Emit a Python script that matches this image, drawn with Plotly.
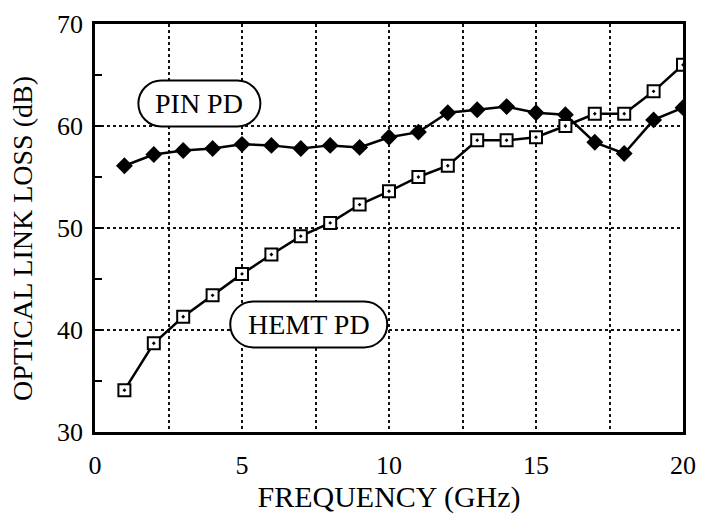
import plotly.graph_objects as go

# Frequency sweep (GHz) and measured optical link loss (dB)
freq_ghz = [1, 2, 3, 4, 5, 6, 7, 8, 9, 10, 11, 12, 13, 14, 15, 16, 17, 18, 19, 20]
pin_pd_loss = [56.1, 57.2, 57.6, 57.8, 58.2, 58.1, 57.8, 58.1, 57.9, 58.9,
               59.4, 61.3, 61.6, 61.9, 61.3, 61.1, 58.4, 57.3, 60.6, 61.8]
hemt_pd_loss = [34.1, 38.7, 41.3, 43.4, 45.5, 47.4, 49.2, 50.5, 52.3, 53.6,
                55.0, 56.1, 58.6, 58.6, 58.9, 60.0, 61.2, 61.2, 63.4, 66.0]

x_ticks = [0, 5, 10, 15, 20]
y_ticks = [30, 40, 50, 60, 70]

# Curve labels: (text, x, y, box width px, box height px)
curve_labels = [
    ("PIN PD", 3.55, 62.2, 122, 46),
    ("HEMT PD", 7.27, 40.55, 157, 46),
]

SERIF = "Liberation Serif"
INK = "black"


def stadium_path(w, h):
    """Rounded-end box outline in pixel offsets around its anchor."""
    r = h / 2.0
    a = w / 2.0 - r
    k = 0.5523 * r
    return (
        f"M {-a},{-r} L {a},{-r} "
        f"C {a + k},{-r} {a + r},{-k} {a + r},0 "
        f"C {a + r},{k} {a + k},{r} {a},{r} "
        f"L {-a},{r} "
        f"C {-a - k},{r} {-a - r},{k} {-a - r},0 "
        f"C {-a - r},{-k} {-a - k},{-r} {-a},{-r} Z"
    )


fig = go.Figure()

fig.add_trace(go.Scatter(
    x=freq_ghz, y=pin_pd_loss, mode="lines+markers", name="PIN PD",
    line=dict(color=INK, width=2.5),
    marker=dict(symbol="diamond", size=13, color=INK),
))
fig.add_trace(go.Scatter(
    x=freq_ghz, y=hemt_pd_loss, mode="lines+markers", name="HEMT PD",
    line=dict(color=INK, width=2.5),
    marker=dict(symbol="square-dot", size=12, color="white",
                line=dict(color=INK, width=2)),
))

for text, lx, ly, bw, bh in curve_labels:
    fig.add_shape(
        type="path", path=stadium_path(bw, bh),
        xref="x", yref="y", xsizemode="pixel", ysizemode="pixel",
        xanchor=lx, yanchor=ly,
        line=dict(color=INK, width=2), fillcolor="white", layer="above",
    )
    fig.add_annotation(
        x=lx, y=ly, text=text, showarrow=False,
        font=dict(family=SERIF, size=28, color=INK),
        xanchor="center", yanchor="middle",
    )

# Vertical axis title, placed beside the tick labels
fig.add_annotation(
    xref="paper", yref="paper", x=-0.123, y=0.475,
    text="OPTICAL LINK LOSS (dB)", textangle=-90, showarrow=False,
    xanchor="center", yanchor="middle",
    font=dict(family=SERIF, size=28, color=INK),
)

fig.update_layout(
    width=701, height=525,
    margin=dict(l=95, r=18, t=24, b=93),
    paper_bgcolor="white", plot_bgcolor="white",
    showlegend=False,
    font=dict(family=SERIF, color=INK),
)

fig.update_xaxes(
    range=[x_ticks[0], x_ticks[-1]], tickvals=x_ticks,
    ticktext=[str(v) for v in x_ticks],
    showline=True, mirror=True, linecolor=INK, linewidth=2.5,
    showgrid=True, gridcolor="#111", gridwidth=1.8, griddash="dot",
    minor=dict(dtick=2.5, showgrid=True, gridcolor="#111", gridwidth=1.8,
               griddash="dot"),
    ticks="", zeroline=False, automargin=False,
    tickfont=dict(family=SERIF, size=26, color=INK),
    ticklabelstandoff=8,
    title=dict(text="FREQUENCY (GHz)", standoff=8,
               font=dict(family=SERIF, size=30, color=INK)),
)

fig.update_yaxes(
    range=[y_ticks[0], y_ticks[-1]], tickmode="linear",
    tick0=y_ticks[0], dtick=y_ticks[1] - y_ticks[0],
    showline=True, mirror=True, linecolor=INK, linewidth=2.5,
    showgrid=True, gridcolor="#111", gridwidth=1.8, griddash="dot",
    ticks="inside", ticklen=7, tickwidth=2, tickcolor=INK,
    minor=dict(dtick=(y_ticks[1] - y_ticks[0]) / 2, ticks="inside",
               ticklen=7, tickwidth=2, tickcolor=INK, showgrid=False),
    zeroline=False, automargin=False,
    tickfont=dict(family=SERIF, size=26, color=INK),
    ticklabelstandoff=4,
)

fig.write_html("out.html")
